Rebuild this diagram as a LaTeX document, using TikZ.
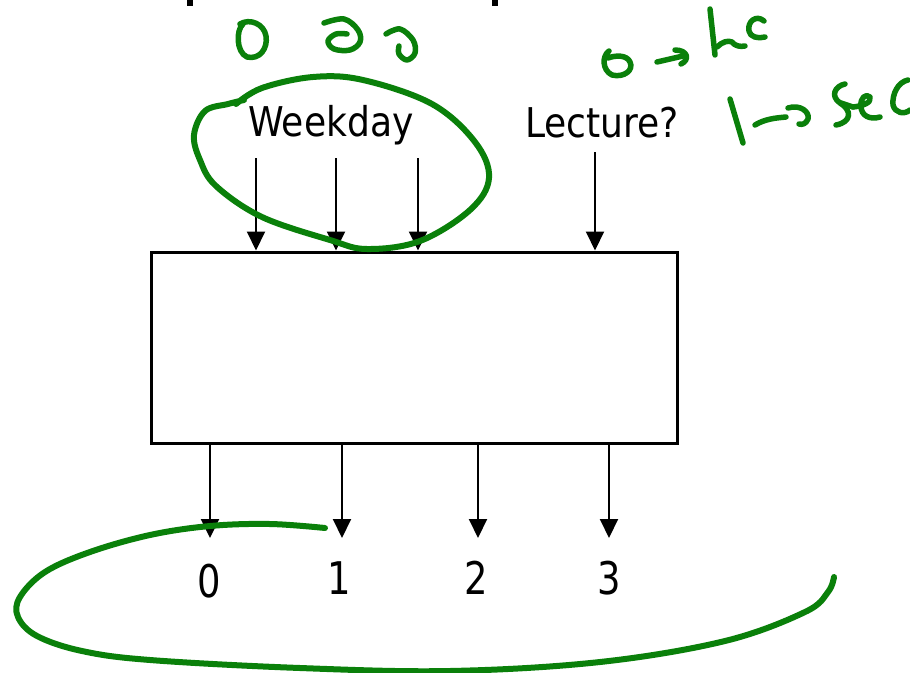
\documentclass[tikz,border=0pt]{standalone}
\usepackage{fontspec}
\setmainfont{DejaVu Sans}
\usetikzlibrary{arrows.meta}
\definecolor{ink}{RGB}{10,128,10}
\begin{document}
\begin{tikzpicture}[x=1pt,y=-1pt,
  arr/.style={line width=2pt,-{Triangle[length=19pt,width=18pt]}},
  pen/.style={draw=ink,line width=5.5pt,line cap=round,line join=round},
  loopline/.style={draw=ink,line width=6pt,line cap=round,line join=round},
  lbl/.style={inner sep=0pt,anchor=base,font=\fontsize{41}{44}\selectfont},
  dig/.style={inner sep=0pt,anchor=base,font=\fontsize{45}{48}\selectfont}]
\useasboundingbox (0,0) rectangle (910,672);
\fill[white] (0,0) rectangle (910,672);
% cut-off title descenders
\fill[black] (187,0) rectangle (193,6);
\fill[black] (492,0) rectangle (498,6);
% decoder box
\node[draw,line width=3pt,minimum width=526pt,minimum height=191pt,inner sep=0pt] (dec) at (414,347.5) {};
% input labels
\node[lbl] (wk) at (331,136) {\scalebox{0.88}[1]{Weekday}};
\node[lbl] (lec) at (602,137) {\scalebox{0.88}[1]{Lecture?}};
% input arrows
\coordinate (i1) at (256,158);
\coordinate (i2) at (336,158);
\coordinate (i3) at (418,158);
\coordinate (i4) at (595,152);
\foreach \c in {i1,i2,i3,i4} \draw[arr] (\c) -- (\c |- dec.north);
% output arrows
\coordinate (o0) at (210,538);
\coordinate (o1) at (342,538);
\coordinate (o2) at (478,538);
\coordinate (o3) at (609,538);
\foreach \c in {o0,o1,o2,o3} \draw[arr] (\c |- dec.south) -- (\c);
% output labels
\node[dig] (d0) at (209,597) {\scalebox{0.82}[1]{0}};
\node[dig] (d1) at (339,594) {\scalebox{0.82}[1]{1}};
\node[dig] (d2) at (476,594) {\scalebox{0.82}[1]{2}};
\node[dig] (d3) at (609,594) {\scalebox{0.82}[1]{3}};
% green loop around Weekday
\draw[loopline] plot[smooth,tension=0.6] coordinates {(244,100) (228,104) (205,111) (194,135) (200,160) (216,186) (262,217) (330,240) (367,249) (420,241) (470,210) (489,178) (475,142) (432,104) (363,80) (313,77) (262,88) (236,104)};
% green loop around outputs
\draw[loopline] plot[smooth,tension=0.6] coordinates {(325,528) (270,524) (210,526) (150,535) (90,552) (45,572) (20,597) (18,617) (37,636) (82,651) (150,660) (300,668) (450,671) (600,662) (725,641) (805,612) (828,592) (834,577)};
% handwritten 0 d d
\draw[pen] (243,24) .. controls (236,30) and (236,52) .. (247,57) .. controls (260,60) and (268,48) .. (266,36) .. controls (264,24) and (250,18) .. (240,24);
\draw[pen] plot[smooth,tension=0.6] coordinates {(324,23) (344,19) (358,30) (360,42) (350,50) (334,49) (328,41) (336,34) (347,34)};
\draw[pen] plot[smooth,tension=0.6] coordinates {(386,34) (400,29) (413,40) (415,53) (407,60) (399,54) (399,46)};
% handwritten 0 -> lec
\draw[pen] (609,51) .. controls (602,56) and (602,70) .. (612,75) .. controls (624,78) and (634,70) .. (630,62) .. controls (627,55) and (616,55) .. (608,58);
\draw[pen] (657,62) -- (683,56);
\draw[pen] (675,50) .. controls (688,50) and (690,60) .. (681,64);
\draw[pen] (710,9) -- (715,55);
\draw[pen] (717,47) .. controls (722,42) and (728,40) .. (732,42) .. controls (735,46) and (740,47) .. (745,46);
\draw[pen] (764,21) .. controls (756,14) and (747,22) .. (749,31) .. controls (750,37) and (758,39) .. (765,37);
% handwritten 1 -> sec
\draw[pen] (730,99) -- (743,143);
\draw[pen] (755,125) .. controls (765,119) and (775,118) .. (786,117);
\draw[pen] (788,108) .. controls (800,104) and (810,112) .. (808,119) .. controls (806,124) and (802,125) .. (799,124);
\draw[pen] (845,84) .. controls (835,86) and (830,96) .. (840,103) .. controls (852,110) and (852,122) .. (836,125);
\draw[pen] (841,103) -- (853,107);
\draw[pen] (853,107) .. controls (862,106) and (872,103) .. (870,97) .. controls (866,93) and (860,98) .. (861,106) .. controls (861,116) and (870,120) .. (880,117);
\draw[pen] (908,80) .. controls (898,82) and (892,94) .. (893,105) .. controls (895,113) and (904,115) .. (910,110);
\end{tikzpicture}
\end{document}
